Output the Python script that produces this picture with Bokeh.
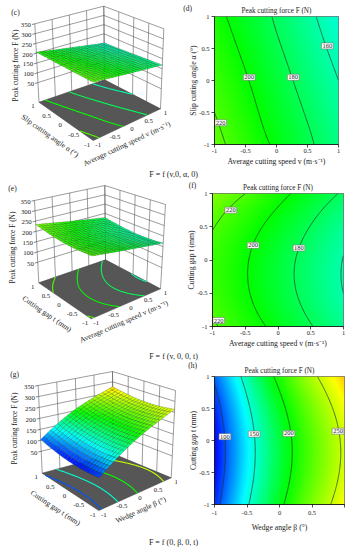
import numpy as np
from bokeh.core.properties import value
from bokeh.embed import file_html
from bokeh.layouts import column, row
from bokeh.models import Label, Range1d
from bokeh.plotting import figure
from bokeh.resources import INLINE

# ---- values -----------------------------------------------------------
NODES = [-1, -0.5, 0, 0.5, 1]
F_V_ALPHA = [  # rows: alpha -1..1, columns: v -1..1
    [225, 211, 197, 183, 169],
    [220, 206, 192, 178.5, 164.5],
    [215, 201.5, 187.5, 173.5, 160],
    [210.5, 196.5, 182.5, 168.5, 155],
    [205.5, 191.5, 178, 164, 150],
]
F_V_T = [  # rows: t -1..1, columns: v -1..1
    [222.5, 208.5, 195, 181, 167],
    [216, 202, 188, 174, 160],
    [215, 201.5, 187.5, 173.5, 159.5],
    [221, 207, 193.5, 179.5, 165.5],
    [233, 220, 205.5, 191.5, 177.5],
]
F_B_T = [  # rows: t -1..1, columns: beta -1..1
    [91, 147, 194.5, 231.5, 264],
    [82.5, 138.5, 186, 223, 255.5],
    [81.5, 137.5, 185, 222, 254.5],
    [89, 145, 192.5, 229.5, 262],
    [104, 160, 207.5, 244.5, 277],
]
LEVELS_D = [220, 200, 180, 160]
LEVELS_F = [220, 200, 180, 160]
LEVELS_H = [100, 150, 200, 250]
LABELS_D = [(220, -0.90, -0.66), (200, -0.44, 0.05), (180, 0.27, 0.05), (160, 0.82, 0.54)]
LABELS_F = [(220, -0.72, 0.75), (200, -0.38, 0.22), (180, 0.32, 0.18), (220, -0.905, -0.91)]
LABELS_H = [(100, -0.84, 0.06), (150, -0.39, 0.10), (200, 0.145, 0.11), (250, 0.90, 0.145)]
Z_TICKS = [50, 100, 150, 200, 250, 300, 350]
Z_FLOOR = -50
Z_TOP = 350
AXIS_TICKS = [-1, -0.5, 0, 0.5, 1]
TICK_TEXT = ["-1", "-0.5", "0", "0.5", "1"]
ZLABEL = "Peak cutting force F (N)"
V_LABEL = "Average cutting speed v (m·s⁻¹)"
ALPHA_LABEL = "Slip cutting angle α (°)"
T_LABEL = "Cutting gap t (mm)"
B_LABEL = "Wedge angle β (°)"
CAPTIONS = ["F = f (v,0, α, 0)", "F = f (v, 0, 0, t)", "F = f (0, β, 0, t)"]

# colour scale stops
STOP_F = [80, 140, 200, 265, 320]
STOP_R = [0, 0, 0, 255, 255]
STOP_G = [0, 255, 255, 255, 0]
STOP_B = [255, 255, 0, 0, 0]

FONT = "Liberation Serif"


def rgb(f):
    f = np.asarray(f, float)
    return (np.interp(f, STOP_F, STOP_R), np.interp(f, STOP_F, STOP_G), np.interp(f, STOP_F, STOP_B))


def hexcol(f):
    r, g, b = rgb(f)
    return "#%02x%02x%02x" % (int(r), int(g), int(b))


def basis(u):
    """Lagrange weights of the table nodes at the positions u (drawing only)."""
    u = np.atleast_1d(u).astype(float)
    n = np.array(NODES, float)
    w = np.ones((len(u), len(n)))
    for i in range(len(n)):
        for j in range(len(n)):
            if i != j:
                w[:, i] *= (u - n[j]) / (n[i] - n[j])
    return w


def surface(table, a, b):
    return basis(b) @ np.array(table, float) @ basis(a).T


def isoline(table, level):
    """Return a,b of the level curve (F falls or rises monotonically along a)."""
    bs = np.linspace(-1, 1, 121)
    a_f = np.linspace(-1, 1, 401)
    grid = surface(table, a_f, bs)
    out = []
    for i in range(len(bs)):
        col = grid[i]
        if col[0] > col[-1]:
            col, aa = col[::-1], a_f[::-1]
        else:
            aa = a_f
        out.append(np.interp(level, col, aa) if col[0] <= level <= col[-1] else np.nan)
    return np.array(out), bs


def camera(pixels):
    """Box corners on the page: floor L, F, R, K then top L, K, R; front top is derived."""
    L, F, R, K, TL, TK, TR = [np.array(q, float) for q in pixels]
    TF = TL + TR - TK + (F - (L + R - K))
    return dict(L=L, F=F, R=R, K=K, TL=TL, TK=TK, TR=TR, TF=TF)


def project(P, a, b, z):
    a, b, z = np.broadcast_arrays(np.asarray(a, float), np.asarray(b, float), np.asarray(z, float))
    s, r, h = (a + 1) / 2, (b + 1) / 2, (z - Z_FLOOR) / (Z_TOP - Z_FLOOR)
    out = []
    for i in (0, 1):
        low = (1 - s) * (1 - r) * P["F"][i] + s * (1 - r) * P["R"][i] + (1 - s) * r * P["L"][i] + s * r * P["K"][i]
        up = (1 - s) * (1 - r) * P["TF"][i] + s * (1 - r) * P["TR"][i] + (1 - s) * r * P["TL"][i] + s * r * P["TK"][i]
        out.append((1 - h) * low + h * up)
    return out[0], out[1]


def panel3d(table, levels, tag, tag_xy, box, corners, alabel, blabel, aoff, boff, zlab_xy, n_cells=21):
    x0, x1, y0, y1 = box
    p = figure(width=x1 - x0, height=y1 - y0, x_range=Range1d(x0, x1), y_range=Range1d(y1, y0),
               toolbar_location=None, output_backend="svg", x_axis_type=None, y_axis_type=None,
               min_border=0, outline_line_color=None)
    p.grid.visible = False
    P = camera(corners)

    # walls
    xs, ys = [], []
    def seg(a0, b0, z0, a1, b1, z1):
        sx, sy = project(P, np.array([a0, a1]), np.array([b0, b1]), np.array([z0, z1]))
        xs.append(sx.tolist()); ys.append(sy.tolist())
    for t in AXIS_TICKS:
        seg(t, 1, Z_FLOOR, t, 1, Z_TOP)
        seg(1, t, Z_FLOOR, 1, t, Z_TOP)
    for z in Z_TICKS:
        seg(-1, 1, z, 1, 1, z)
        seg(1, 1, z, 1, -1, z)
    p.multi_line(xs, ys, line_color="#5a5a5a", line_width=0.6)

    # z tick stubs and labels
    sx0, sy0 = project(P, -1, 1, np.array(Z_TICKS, float))
    sx1, sy1 = project(P, 1, 1, np.array(Z_TICKS, float))
    d = np.hypot(sx1 - sx0, sy1 - sy0)
    ux, uy = (sx1 - sx0) / d, (sy1 - sy0) / d
    p.segment(sx0, sy0, sx0 - 3 * ux, sy0 - 3 * uy, line_color="#333333", line_width=0.6)
    p.text(sx0 - 4 * ux, sy0 - 3.5 * uy + 0.5, text=[str(z) for z in Z_TICKS], text_align="right",
           text_baseline="middle", text_font=value(FONT), text_font_size="6.8px", text_color="#222222")

    # floor
    fx, fy = project(P, np.array([-1, -1, 1, 1]), np.array([1, -1, -1, 1]), Z_FLOOR)
    p.patch(fx, fy, fill_color="#565656", line_color="#444444", line_width=0.6)
    for lev in levels:
        a, b = isoline(table, lev)
        cx, cy = project(P, a, b, Z_FLOOR)
        p.line(cx, cy, line_color=hexcol(lev), line_width=1.1)

    # surface cells, far ones first
    edge = np.linspace(-1, 1, n_cells + 1)
    fz = surface(table, edge, edge)
    sx, sy = project(P, *np.meshgrid(edge, edge), fz)
    order = sorted(((i, j) for i in range(n_cells) for j in range(n_cells)), key=lambda c: -(c[0] + c[1]))
    px, py, col = [], [], []
    for i, j in order:
        px.append([sx[i, j], sx[i, j + 1], sx[i + 1, j + 1], sx[i + 1, j]])
        py.append([sy[i, j], sy[i, j + 1], sy[i + 1, j + 1], sy[i + 1, j]])
        col.append(hexcol(fz[i:i + 2, j:j + 2].mean()))
    p.patches(px, py, fill_color=col, line_color="#0a2a10", line_alpha=0.4, line_width=0.5)

    # floor tick labels and axis titles
    t = np.array(AXIS_TICKS, float)
    ax, ay = project(P, -1, t, Z_FLOOR)   # b axis, front-left edge
    bx, by = project(P, t, -1, Z_FLOOR)   # a axis, front-right edge
    kw = dict(text_align="center", text_baseline="middle", text_font=value(FONT), text_color="#222222")
    p.text(ax - 6, ay + 4, text=TICK_TEXT, text_font_size="6.8px", **kw)
    p.text(bx + 5, by + 4, text=TICK_TEXT, text_font_size="6.8px", **kw)
    ang_b = np.arctan2(-(ay[-1] - ay[0]), ax[-1] - ax[0])
    ang_a = np.arctan2(-(by[-1] - by[0]), bx[-1] - bx[0])
    if abs(ang_b) > np.pi / 2:
        ang_b -= np.sign(ang_b) * np.pi
    p.text([ax[2] + boff[0]], [ay[2] + boff[1]], text=[blabel], angle=[ang_b], text_font_size="7.5px", **kw)
    p.text([bx[2] + aoff[0]], [by[2] + aoff[1]], text=[alabel], angle=[ang_a], text_font_size="7.5px", **kw)
    p.text([zlab_xy[0]], [zlab_xy[1]], text=[ZLABEL], angle=[np.pi / 2], text_font_size="7.4px", **kw)
    p.text([tag_xy[0]], [tag_xy[1]], text=[tag], text_font_size="7.5px", **kw)
    return p


def panel2d(table, levels, labels, tag, tag_xy, xlabel, ylabel, frame, top, bottom, xtick=1, xstand=1, overrides=None):
    fx0, fx1, fy0, fy1 = frame
    width = 177
    height = bottom - top
    p = figure(width=width, height=height, x_range=Range1d(-1, 1), y_range=Range1d(-1, 1),
               toolbar_location=None, output_backend="svg",
               min_border_left=int(round(fx0 - 177)), min_border_right=int(round(354 - fx1)),
               min_border_top=int(round(fy0 - top)), min_border_bottom=int(round(bottom - fy1)),
               outline_line_color="#333333", outline_line_width=0.7)
    p.grid.visible = False
    p.title.text = "Peak cutting force F (N)"
    p.title.align = "center"
    p.title.text_font = FONT
    p.title.text_font_size = "7.2px"
    p.title.text_font_style = "normal"
    p.title.text_color = "#222222"
    p.title.standoff = 3
    p.title.offset = 0
    for ax, lab in ((p.xaxis[0], xlabel), (p.yaxis[0], ylabel)):
        ax.ticker = AXIS_TICKS
        ax.major_label_overrides = {t: s for t, s in zip(AXIS_TICKS, TICK_TEXT)}
        ax.axis_label = lab
        ax.axis_label_text_font = FONT
        ax.axis_label_text_font_size = "7.7px"
        ax.axis_label_text_font_style = "normal"
        ax.axis_label_text_color = "#222222"
        ax.major_label_text_font = FONT
        ax.major_label_text_font_size = "6.5px"
        ax.major_label_text_color = "#222222"
        ax.major_tick_out = 3
        ax.major_tick_in = 0
        ax.minor_tick_out = 0
        ax.minor_tick_in = 0
        ax.major_tick_line_width = 0.7
        ax.axis_line_width = 0.7
    p.xaxis[0].major_label_standoff = xtick
    p.xaxis[0].axis_label_standoff = xstand
    p.yaxis[0].major_label_standoff = 2
    p.yaxis[0].axis_label_standoff = -2
    if overrides:
        p.xaxis[0].major_label_overrides = {**p.xaxis[0].major_label_overrides, **overrides}
    u = np.linspace(-1, 1, 180)
    f = surface(table, u, u)
    r, g, b = rgb(f)
    img = np.zeros(f.shape + (4,), dtype=np.uint8)
    img[..., 0], img[..., 1], img[..., 2], img[..., 3] = r, g, b, 255
    p.image_rgba(image=[img.view(np.uint32).reshape(f.shape)], x=-1, y=-1, dw=2, dh=2)
    for lev in levels:
        a, bb = isoline(table, lev)
        p.line(a, bb, line_color="#22382a", line_width=0.7)
    p.text([l[1] for l in labels], [l[2] for l in labels], text=[str(l[0]) for l in labels],
           text_align="center", text_baseline="middle", text_font=value(FONT), text_font_size="6.5px",
           text_color="#222222", background_fill_color="white", border_line_color="#777777",
           border_line_width=0.6, padding=1)
    p.add_layout(Label(x=tag_xy[0] - 177, y=fy1 - tag_xy[1], x_units="screen", y_units="screen", text=tag,
                       text_font=FONT, text_font_size="7.5px", text_color="#222222",
                       text_align="center", text_baseline="middle"), "left")
    return p


def caption(text, top, bottom, cy):
    p = figure(width=354, height=bottom - top, x_range=Range1d(0, 354), y_range=Range1d(bottom, top),
               toolbar_location=None, output_backend="svg", x_axis_type=None, y_axis_type=None,
               min_border=0, outline_line_color=None)
    p.grid.visible = False
    p.text([173], [cy], text=[text], text_align="center", text_baseline="middle",
           text_font=value(FONT), text_font_size="8px", text_color="#222222")
    return p


c = panel3d(F_V_ALPHA, LEVELS_D, "(c)", (15, 11.7), (0, 177, 0, 168),
            [(38.5, 101.7), (92.7, 140), (160, 108.3), (104, 79.3), (34.3, 23.3), (103.3, 5.7), (163.3, 28.3)],
            V_LABEL, ALPHA_LABEL, (0, 19), (-16, 14.3), (15, 65))
d = panel2d(F_V_ALPHA, LEVELS_D, LABELS_D, "(d)", (187, 8.3), V_LABEL, ALPHA_LABEL,
            (209.3, 338.3, 15.7, 144), 0, 168)
e = panel3d(F_V_T, LEVELS_F, "(e)", (12, 188.3), (0, 177, 180, 350),
            [(38.3, 282.3), (90.7, 318.3), (160, 288.3), (105, 259.3), (34, 200), (104.3, 185), (165, 204)],
            V_LABEL, T_LABEL, (-2, 17.7), (-18, 13), (12.3, 247))
f = panel2d(F_V_T, LEVELS_F, LABELS_F, "(f)", (192, 185), V_LABEL, T_LABEL,
            (208.7, 342.7, 192.7, 326), 180, 350)
g = panel3d(F_B_T, LEVELS_H, "(g)", (14, 374), (0, 177, 362, 534),
            [(41.7, 472.7), (98.3, 510), (170.7, 477.3), (112.7, 453.3), (37.7, 385), (112, 371), (175, 390)],
            B_LABEL, T_LABEL, (5.7, 15.7), (-15, 16), (14, 428))
h = panel2d(F_B_T, LEVELS_H, LABELS_H, "(h)", (192, 370), B_LABEL, T_LABEL,
            (211.7, 344, 375.7, 509), 362, 534, xtick=3, xstand=5, overrides={1: ""})

page = column(row(column(c), column(d)), caption(CAPTIONS[0], 168, 180, 174),
              row(column(e), column(f)), caption(CAPTIONS[1], 350, 362, 356),
              row(column(g), column(h)), caption(CAPTIONS[2], 534, 550, 542))
open("out.html", "w").write(file_html(page, INLINE))
